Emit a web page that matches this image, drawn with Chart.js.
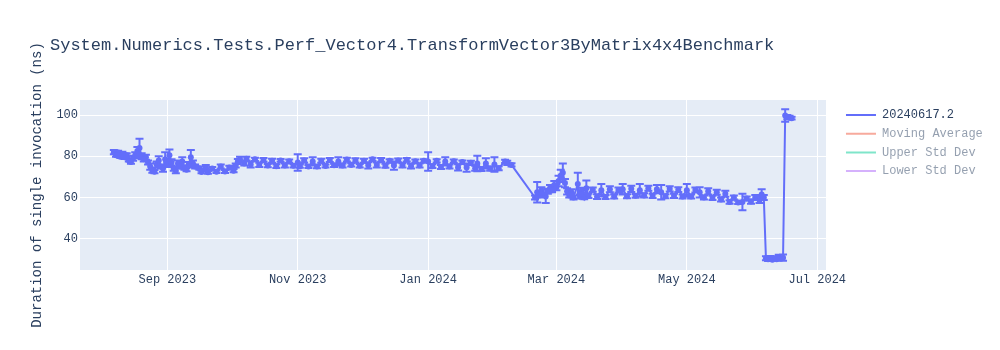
<!DOCTYPE html>
<html>
<head>
<meta charset="utf-8">
<script src="https://cdn.jsdelivr.net/npm/chart.js@4.4.1/dist/chart.umd.min.js"></script>
<style>
  body { margin: 0; background: #fff; }
  #wrap { width: 1000px; height: 350px; }
</style>
</head>
<body>
<div id="wrap"><canvas id="myChart" width="1000" height="350"></canvas></div>
<script>
// benchmark runs: date, mean (ns), std dev
const runDates = [
  '2023-08-07','2023-08-08','2023-08-09','2023-08-10','2023-08-11','2023-08-12','2023-08-13','2023-08-14',
  '2023-08-15','2023-08-16','2023-08-17','2023-08-18','2023-08-19','2023-08-20','2023-08-21','2023-08-22',
  '2023-08-23','2023-08-24','2023-08-25','2023-08-26','2023-08-27','2023-08-28','2023-08-29','2023-08-30',
  '2023-08-31','2023-09-01','2023-09-02','2023-09-03','2023-09-04','2023-09-05','2023-09-06','2023-09-07',
  '2023-09-08','2023-09-09','2023-09-10','2023-09-11','2023-09-12','2023-09-13','2023-09-14','2023-09-16',
  '2023-09-17','2023-09-19','2023-09-20','2023-09-22','2023-09-24','2023-09-26','2023-09-28','2023-09-30',
  '2023-10-02','2023-10-03','2023-10-04','2023-10-05','2023-10-07','2023-10-08','2023-10-10','2023-10-12',
  '2023-10-14','2023-10-16','2023-10-18','2023-10-20','2023-10-22','2023-10-24','2023-10-26','2023-10-28',
  '2023-10-30','2023-11-01','2023-11-02','2023-11-04','2023-11-06','2023-11-08','2023-11-10','2023-11-12',
  '2023-11-14','2023-11-16','2023-11-18','2023-11-20','2023-11-22','2023-11-24','2023-11-26','2023-11-28',
  '2023-11-30','2023-12-02','2023-12-04','2023-12-06','2023-12-08','2023-12-10','2023-12-12','2023-12-14',
  '2023-12-16','2023-12-18','2023-12-20','2023-12-22','2023-12-24','2023-12-26','2023-12-28','2023-12-30',
  '2024-01-01','2024-01-03','2024-01-05','2024-01-07','2024-01-09','2024-01-11','2024-01-13','2024-01-15',
  '2024-01-17','2024-01-19','2024-01-21','2024-01-23','2024-01-24','2024-01-26','2024-01-28','2024-01-30',
  '2024-02-01','2024-02-03','2024-02-06','2024-02-07','2024-02-09',
  '2024-02-20','2024-02-21','2024-02-22','2024-02-23','2024-02-24','2024-02-25','2024-02-26','2024-02-27',
  '2024-02-28','2024-02-29','2024-03-01','2024-03-02','2024-03-03','2024-03-04','2024-03-05','2024-03-06',
  '2024-03-07','2024-03-08','2024-03-09','2024-03-11','2024-03-12','2024-03-13','2024-03-14','2024-03-15',
  '2024-03-16','2024-03-18','2024-03-20','2024-03-22','2024-03-24','2024-03-26','2024-03-28','2024-03-30',
  '2024-04-01','2024-04-03','2024-04-05','2024-04-07','2024-04-09','2024-04-11','2024-04-13','2024-04-15',
  '2024-04-17','2024-04-19','2024-04-21','2024-04-23','2024-04-25','2024-04-27','2024-04-29','2024-05-01',
  '2024-05-03','2024-05-05','2024-05-07','2024-05-09','2024-05-11','2024-05-13','2024-05-15','2024-05-17',
  '2024-05-19','2024-05-21','2024-05-23','2024-05-25','2024-05-27','2024-05-29','2024-05-31','2024-06-02',
  '2024-06-04','2024-06-05','2024-06-06','2024-06-07','2024-06-08','2024-06-09','2024-06-10','2024-06-11',
  '2024-06-12','2024-06-13','2024-06-14','2024-06-15','2024-06-16','2024-06-17','2024-06-18','2024-06-19'
];
const runValues = [
  82.0,80.5,81.8,79.8,81.0,79.5,80.5,78.0,
  77.2,79.0,80.5,82.5,84.0,80.0,78.5,79.5,
  77.0,75.0,73.0,72.5,76.0,78.0,75.0,74.0,
  78.5,76.0,80.5,77.0,74.0,73.0,76.5,75.0,
  77.5,74.5,73.5,76.0,79.5,76.5,75.0,74.2,
  72.4,74.8,72.2,74.0,72.5,75.0,72.6,74.5,
  73.0,75.5,77.5,78.5,76.5,78.8,76.0,78.5,
  75.8,78.2,75.5,77.8,75.2,78.0,75.5,77.6,
  75.4,77.0,75.2,78.0,75.0,77.5,75.0,77.8,
  75.3,78.2,75.6,77.5,75.5,78.4,75.8,78.0,
  75.4,77.8,75.6,78.5,75.8,78.2,75.4,77.8,
  75.5,78.0,75.6,78.3,75.2,77.6,75.5,77.8,
  77.5,75.2,77.8,74.8,77.5,75.0,77.6,74.6,
  77.2,74.5,76.8,74.2,76.5,73.8,76.5,74.0,
  76.0,74.2,77.5,76.8,75.8,
  60.0,62.5,61.0,63.5,61.5,60.5,63.0,64.5,
  63.5,66.0,65.0,68.0,70.5,72.0,67.0,63.0,
  61.0,62.5,60.0,66.5,60.5,63.5,60.0,64.5,
  60.8,63.8,60.4,63.5,60.2,64.0,60.5,63.6,
  64.0,60.6,64.2,60.8,63.5,61.0,64.5,60.8,
  64.0,62.5,60.6,64.2,60.8,63.8,60.5,63.5,
  60.5,63.6,62.5,60.0,63.0,59.8,62.5,59.0,
  61.8,57.8,60.0,57.6,57.8,59.5,58.0,60.0,
  58.8,61.5,60.0,30.5,30.0,30.6,29.8,30.4,
  30.0,31.0,30.2,30.8,99.8,99.0,98.8,98.5
];
const runStdDev = [
  1.0,0.8,0.9,0.7,1.2,0.8,0.9,0.6,
  0.8,1.2,1.5,2.0,4.5,1.5,1.0,1.2,
  1.0,1.5,1.0,0.8,1.5,2.0,1.0,1.5,
  3.5,1.2,2.8,1.5,1.0,1.2,1.5,1.0,
  2.0,1.0,0.8,1.2,3.5,1.5,1.0,0.8,
  0.6,0.9,0.7,0.8,0.6,1.0,0.7,0.9,
  0.8,1.0,1.2,1.3,1.0,0.9,1.5,0.8,
  1.0,0.9,0.8,1.0,0.9,0.7,1.0,0.8,
  0.9,4.0,0.8,1.0,0.7,2.0,0.8,1.0,
  0.7,1.0,0.8,2.0,1.0,0.9,0.8,1.0,
  0.8,1.0,1.5,0.8,1.2,0.9,1.0,0.8,
  2.0,0.9,1.0,0.8,1.2,0.8,1.0,0.8,
  4.5,0.9,0.8,1.0,2.0,1.0,0.8,1.5,
  0.8,2.0,1.0,1.2,3.8,0.9,2.5,1.0,
  3.5,1.0,0.8,1.0,0.8,
  1.0,5.0,1.0,1.5,1.0,3.2,1.2,1.5,
  1.0,2.0,1.5,2.5,3.0,4.5,2.0,1.5,
  1.0,1.5,1.0,5.5,1.0,1.2,0.9,3.7,
  1.0,1.0,1.2,3.0,1.0,1.5,1.0,1.2,
  2.5,1.0,1.5,0.9,3.0,1.0,1.2,1.0,
  2.0,3.5,1.0,1.3,1.0,1.2,1.0,3.0,
  1.0,1.2,2.5,1.0,1.5,1.0,1.2,1.0,
  1.5,0.8,1.0,0.8,4.0,1.0,1.0,1.2,
  1.5,2.5,1.2,1.0,0.8,1.0,0.6,0.9,
  0.7,1.2,0.8,1.5,3.0,1.0,0.8,0.7
];

const seriesNames = ['20240617.2', 'Moving Average', 'Upper Std Dev', 'Lower Std Dev'];
const seriesColors = ['#636efa', 'rgba(239,85,59,0.5)', 'rgba(0,204,150,0.5)', 'rgba(171,99,250,0.5)'];

const xTickDates = ['2023-09-01', '2023-11-01', '2024-01-01', '2024-03-01', '2024-05-01', '2024-07-01'];
const xTickLabels = ['Sep 2023', 'Nov 2023', 'Jan 2024', 'Mar 2024', 'May 2024', 'Jul 2024'];
const xRange = ['2023-07-22T04:00:00Z', '2024-07-05T02:00:00Z'];
const yTicks = [40, 60, 80, 100];
const yRange = [24.8, 107.3];

const textColor = '#2a3f5f';
const times = runDates.map(d => Date.parse(d));

Chart.defaults.font.family = "'Liberation Mono', 'Courier New', monospace";
Chart.defaults.color = textColor;

// plot background like plotly
const plotBg = {
  id: 'plotBg',
  beforeDraw(chart) {
    const { ctx, chartArea } = chart;
    ctx.save();
    ctx.fillStyle = '#e5ecf6';
    ctx.fillRect(chartArea.left, chartArea.top, chartArea.width, chartArea.height);
    ctx.restore();
  }
};

// std dev whiskers with caps
const errorBars = {
  id: 'errorBars',
  afterDatasetsDraw(chart) {
    const { ctx, scales } = chart;
    ctx.save();
    ctx.strokeStyle = seriesColors[0];
    ctx.lineWidth = 2;
    ctx.beginPath();
    for (let i = 0; i < times.length; i++) {
      const px = scales.x.getPixelForValue(times[i]);
      const top = scales.y.getPixelForValue(runValues[i] + runStdDev[i]);
      const bot = scales.y.getPixelForValue(runValues[i] - runStdDev[i]);
      ctx.moveTo(px, top); ctx.lineTo(px, bot);
      ctx.moveTo(px - 4, top); ctx.lineTo(px + 4, top);
      ctx.moveTo(px - 4, bot); ctx.lineTo(px + 4, bot);
    }
    ctx.stroke();
    ctx.restore();
  }
};

const datasets = seriesNames.map((name, i) => ({
  label: name,
  data: i === 0 ? times.map((t, k) => ({ x: t, y: runValues[k] })) : [],
  borderColor: seriesColors[i],
  backgroundColor: seriesColors[i],
  borderWidth: 2,
  pointRadius: i === 0 ? 3 : 0,
  pointBorderWidth: 0,
  tension: 0,
  hidden: i !== 0
}));

const chart = new Chart(document.getElementById('myChart'), {
  type: 'line',
  data: { datasets: datasets },
  options: {
    responsive: false,
    animation: false,
    devicePixelRatio: 1,
    events: [],
    layout: { padding: { left: 50, right: 7.2, top: 0, bottom: 0 } },
    scales: {
      x: {
        type: 'linear',
        min: Date.parse(xRange[0]),
        max: Date.parse(xRange[1]),
        afterBuildTicks: s => { s.ticks = xTickDates.map(d => ({ value: Date.parse(d) })); },
        afterFit: s => { s.height = 80; },
        grid: { color: '#ffffff', lineWidth: 1, drawTicks: false },
        border: { display: false },
        ticks: {
          autoSkip: false, maxRotation: 0, padding: 2.6,
          font: { size: 12 }, color: textColor,
          callback: (v, idx) => xTickLabels[idx]
        }
      },
      y: {
        min: yRange[0],
        max: yRange[1],
        afterBuildTicks: s => { s.ticks = yTicks.map(v => ({ value: v })); },
        afterFit: s => { s.width = 30; },
        grid: { color: '#ffffff', lineWidth: 1, drawTicks: false },
        border: { display: false },
        ticks: { padding: 2, font: { size: 12 }, color: textColor },
        title: {
          display: true,
          text: 'Duration of single invocation (ns)',
          font: { size: 14 },
          color: textColor,
          padding: { top: -21.4, bottom: 0 }
        }
      },
      yR: {
        position: 'right',
        display: true,
        grid: { display: false },
        border: { display: false },
        ticks: { display: false },
        afterFit: s => { s.width = 13.3; }
      }
    },
    plugins: {
      title: {
        display: true,
        text: 'System.Numerics.Tests.Perf_Vector4.TransformVector3ByMatrix4x4Benchmark',
        align: 'start',
        color: textColor,
        font: { size: 17, weight: 'normal' },
        padding: { top: 35.5, bottom: 44.1 }
      },
      legend: {
        position: 'right',
        align: 'start',
        fullSize: false,
        title: { display: true, text: '', font: { size: 1, lineHeight: 1 }, padding: { top: 1.3, bottom: 0 } },
        labels: {
          boxWidth: 30,
          boxHeight: 2,
          padding: 6.7,
          font: { size: 12 },
          generateLabels: c => c.data.datasets.map((ds, i) => ({
            text: ds.label,
            fillStyle: ds.borderColor,
            strokeStyle: ds.borderColor,
            lineWidth: 0,
            hidden: false,
            fontColor: i === 0 ? textColor : 'rgba(42,63,95,0.5)',
            datasetIndex: i
          }))
        }
      },
      tooltip: { enabled: false }
    }
  },
  plugins: [plotBg, errorBars]
});
</script>
</body>
</html>
